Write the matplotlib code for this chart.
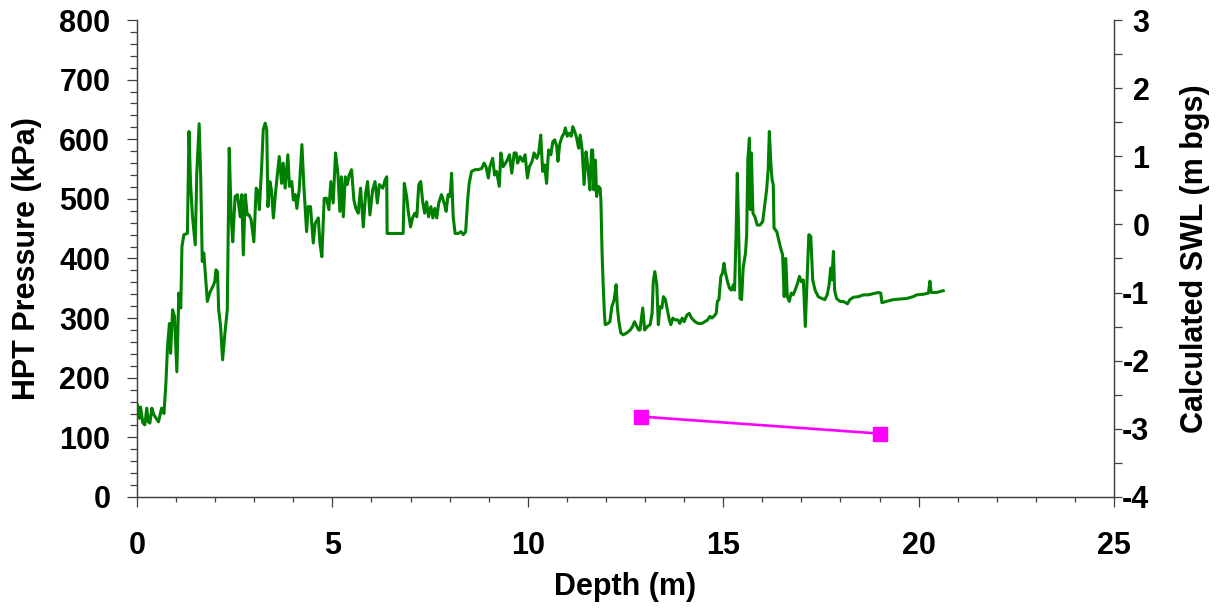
"""HPT pressure log with calculated static water level."""

import matplotlib
matplotlib.use("Agg")
import matplotlib.pyplot as plt
from matplotlib.ticker import MultipleLocator

# HPT pressure log (depth in m, pressure in kPa)
depth_m = [
    0.01, 0.06, 0.09, 0.15, 0.20, 0.25, 0.29, 0.33, 0.38, 0.43, 0.55, 0.63, 0.69, 0.74, 0.78,
    0.83, 0.86, 0.91, 0.96, 1.02, 1.07, 1.12, 1.15, 1.20, 1.29, 1.33, 1.37, 1.42, 1.49, 1.53,
    1.59, 1.63, 1.67, 1.71, 1.80, 1.87, 1.94, 1.99, 2.02, 2.06, 2.09, 2.14, 2.19, 2.25, 2.31,
    2.36, 2.41, 2.45, 2.51, 2.57, 2.64, 2.68, 2.72, 2.77, 2.82, 2.87, 2.92, 2.99, 3.05, 3.10,
    3.13, 3.19, 3.23, 3.28, 3.32, 3.35, 3.40, 3.44, 3.49, 3.54, 3.59, 3.64, 3.70, 3.74, 3.79,
    3.86, 3.90, 3.96, 4.00, 4.05, 4.09, 4.15, 4.22,
    4.27, 4.34, 4.38, 4.44, 4.51, 4.56, 4.64, 4.68, 4.73, 4.79, 4.85, 4.91, 4.96, 5.02, 5.08,
    5.14, 5.19, 5.23, 5.28, 5.33, 5.38, 5.43, 5.49, 5.55, 5.60, 5.66, 5.72, 5.79, 5.85, 5.90,
    5.96, 6.03, 6.09, 6.15, 6.20, 6.29, 6.35, 6.39, 6.40, 6.81, 6.84, 6.90, 6.94, 7.00, 7.05,
    7.11, 7.16, 7.21, 7.26, 7.31, 7.36, 7.41, 7.46, 7.52, 7.57, 7.62, 7.67, 7.72, 7.79, 7.86,
    7.91, 7.96, 8.01, 8.05, 8.09, 8.14, 8.22, 8.29, 8.35, 8.41, 8.46, 8.50,
    8.56, 8.65, 8.73, 8.82, 8.88, 8.93, 8.99, 9.03, 9.10, 9.15, 9.20, 9.27, 9.31, 9.37, 9.46,
    9.53, 9.59, 9.65, 9.70, 9.74, 9.80, 9.87, 9.93, 9.99, 10.04, 10.11, 10.16, 10.23, 10.28, 10.33,
    10.38, 10.43, 10.48, 10.53, 10.59, 10.64, 10.69, 10.74, 10.77, 10.82, 10.88, 10.93, 10.96, 11.01, 11.06,
    11.11, 11.15, 11.20, 11.25, 11.30, 11.34, 11.39, 11.44, 11.49, 11.54, 11.59, 11.63, 11.66, 11.69, 11.73,
    11.76, 11.80, 11.85, 11.87, 11.90, 11.93, 11.96, 11.98, 12.05, 12.10, 12.15, 12.21, 12.26, 12.29, 12.33,
    12.38, 12.44, 12.53, 12.62, 12.68, 12.73, 12.79, 12.84,
    12.87, 12.94, 12.99, 13.06, 13.13, 13.18, 13.21, 13.25, 13.30, 13.34, 13.38, 13.43, 13.47, 13.52, 13.57,
    13.62, 13.66, 13.71, 13.77, 13.84, 13.89, 13.95, 14.00, 14.07, 14.13, 14.19, 14.28, 14.36, 14.45, 14.53,
    14.60, 14.66, 14.71, 14.76, 14.82, 14.85, 14.89, 14.94, 14.98, 15.02, 15.05, 15.11, 15.16, 15.21, 15.26,
    15.29, 15.33, 15.36, 15.40, 15.43, 15.47, 15.51, 15.57, 15.60, 15.63, 15.67, 15.69, 15.72, 15.76, 15.81,
    15.87, 15.94, 16.01, 16.07, 16.11, 16.15, 16.18, 16.22, 16.25, 16.28, 16.30, 16.37, 16.42, 16.47, 16.52,
    16.56, 16.60, 16.64, 16.69, 16.74, 16.79, 16.84, 16.90, 16.95, 17.00, 17.05, 17.10, 17.14, 17.19, 17.24,
    17.29, 17.35, 17.43, 17.52, 17.60, 17.66, 17.71, 17.75, 17.78, 17.82, 17.85, 17.90, 17.99, 18.07, 18.18,
    18.24, 18.33, 18.46, 18.59, 18.71, 18.84, 18.97, 19.03, 19.06, 19.18, 19.35, 19.52, 19.70, 19.86, 19.95,
    20.12, 20.25, 20.29, 20.32, 20.46, 20.63,
]
pressure_kpa = [
    154, 132, 151, 124, 121, 149, 126, 124, 149, 138, 126, 149, 140, 191, 252,
    291, 241, 314, 303, 210, 342, 317, 420, 440, 442, 613, 526, 470, 423, 543,
    626, 537, 395, 409, 328, 344, 353, 361, 381, 378, 314, 286, 230, 275, 314,
    585, 470, 428, 504, 507, 470, 507, 406, 507, 473, 473, 465, 428, 518, 512,
    482, 554, 616, 627, 616, 487, 529, 515, 468, 507, 540, 571, 526, 560, 518,
    574, 521, 529, 498, 507, 484, 515, 591,
    521, 445, 487, 487, 426, 459, 468, 426, 403, 501, 501, 482, 529, 493, 577,
    543, 479, 537, 470, 537, 524, 540, 549, 498, 484, 476, 518, 453, 509, 529,
    473, 515, 529, 493, 524, 518, 532, 537, 442, 442, 526, 504, 479, 453, 468,
    476, 470, 524, 529, 495, 476, 495, 470, 487, 468, 484, 468, 493, 507, 493,
    479, 507, 504, 543, 470, 442, 442, 445, 440, 445, 498, 526,
    546, 549, 549, 551, 560, 554, 535, 554, 568, 540, 546, 521, 577, 554, 563,
    574, 543, 577, 577, 560, 571, 563, 574, 535, 554, 563, 577, 568, 577, 607,
    546, 557, 526, 582, 574, 596, 599, 588, 563, 593, 605, 610, 619, 605, 610,
    605, 621, 613, 602, 585, 607, 582, 524, 579, 551, 515, 582, 582, 515, 565,
    504, 521, 518, 498, 409, 353, 308, 289, 291, 294, 319, 331, 356, 319, 294,
    275, 272, 275, 280, 286, 294, 286, 280,
    280, 317, 280, 286, 289, 308, 361, 378, 356, 289, 319, 317, 336, 331, 314,
    297, 289, 300, 297, 297, 291, 300, 294, 305, 308, 300, 294, 291, 291, 294,
    297, 303, 300, 303, 308, 328, 331, 370, 375, 392, 378, 361, 350, 347, 356,
    347, 442, 543, 431, 333, 331, 384, 409, 440, 565, 602, 482, 577, 476, 470,
    456, 456, 462, 493, 515, 549, 613, 557, 532, 524, 451, 445, 431, 417, 406,
    336, 400, 336, 328, 342, 339, 347, 358, 370, 361, 364, 286, 356, 440, 437,
    364, 347, 336, 333, 331, 339, 356, 384, 364, 412, 347, 333, 328, 328, 324,
    331, 335, 336, 339, 339, 341, 343, 342, 326, 328, 331, 332, 333, 336, 339,
    340, 342, 362, 343, 343, 346,
]

# calculated static water level
swl_depth_m = [12.89, 19.01]
swl_m_bgs = [-2.82, -3.07]

plt.rcParams["font.family"] = ["Liberation Sans", "DejaVu Sans"]
plt.rcParams["font.weight"] = "bold"
plt.rcParams["axes.labelweight"] = "bold"
plt.rcParams["axes.unicode_minus"] = False

fig = plt.figure(figsize=(12.21, 6.08), dpi=100)
ax = fig.add_axes([0.1122, 0.1826, 0.8002, 0.7845])
ax2 = ax.twinx()

ax.plot(depth_m, pressure_kpa, color="#008000", linewidth=2.2, zorder=3,
        solid_joinstyle="round")
ax2.plot(swl_depth_m, swl_m_bgs, color="#ff00ff", linewidth=1.9,
         marker="s", markersize=9.5)

ax.set_xlim(0, 25)
ax.set_ylim(0, 800)
ax2.set_ylim(-4, 3)
ax.xaxis.set_major_locator(MultipleLocator(5))
ax.xaxis.set_minor_locator(MultipleLocator(1))
ax.yaxis.set_major_locator(MultipleLocator(100))
ax.yaxis.set_minor_locator(MultipleLocator(20))
ax2.yaxis.set_major_locator(MultipleLocator(1))
ax2.yaxis.set_minor_locator(MultipleLocator(0.5))

spine_col = "#404040"
for a in (ax, ax2):
    a.spines["top"].set_visible(False)
    for s in ("left", "right", "bottom"):
        a.spines[s].set_color(spine_col)
        a.spines[s].set_linewidth(0.9)

ax.tick_params(axis="x", which="major", length=7.2, width=0.9, color=spine_col,
               labelsize=22, pad=17)
ax.tick_params(axis="x", which="minor", length=3.6, width=0.9, color=spine_col)
ax.tick_params(axis="y", which="major", length=7.2, width=0.9, color=spine_col,
               labelsize=22, pad=12)
ax.tick_params(axis="y", which="minor", length=5, width=0.9, color=spine_col)
ax2.tick_params(axis="y", which="both", length=5.5, width=0.9, color=spine_col,
                labelsize=22, pad=20)
ax2.set_yticks([-4, -3, -2, -1, 0, 1, 2, 3])
plt.setp(ax2.get_yticklabels(), ha="right")

ax.set_xlabel("Depth (m)", fontsize=22)
ax.set_ylabel("HPT Pressure (kPa)", fontsize=22)
ax2.set_ylabel("Calculated SWL (m bgs)", fontsize=22)
ax.xaxis.set_label_coords(0.5, -0.158)
ax.yaxis.set_label_coords(-0.097, 0.5)
ax2.yaxis.set_label_coords(1.068, 0.5)

fig.savefig("out.png", dpi=100, facecolor="white")
